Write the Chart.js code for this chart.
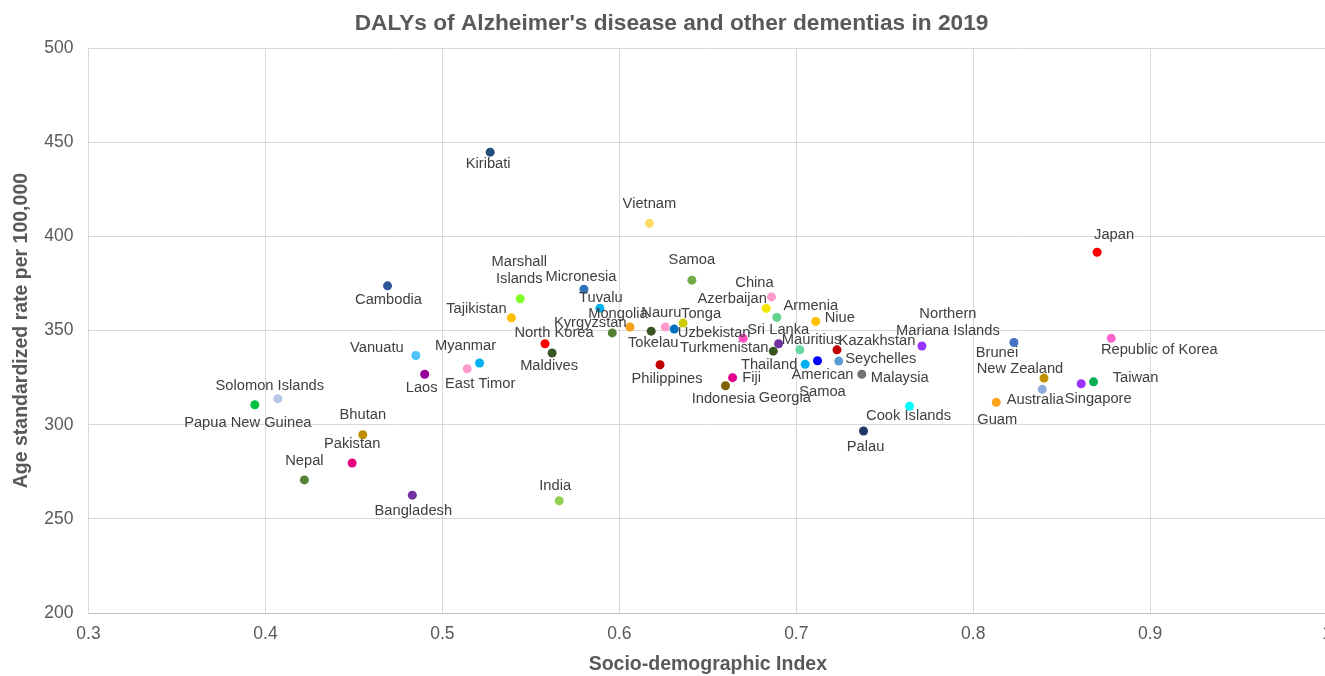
<!DOCTYPE html>
<html>
<head>
<meta charset="utf-8">
<title>DALYs of Alzheimer's disease and other dementias in 2019</title>
<script src="https://cdn.jsdelivr.net/npm/chart.js@4"></script>
<style>
  html, body { margin: 0; padding: 0; background: #fff; overflow: hidden; }
  #myChart { position: absolute; left: 0; top: 0; }
</style>
</head>
<body>
<canvas id="myChart" width="1343" height="676"></canvas>
<script>
/* DATA */
const countries = [
  'Kiribati', 'Vietnam', 'Marshall Islands', 'Micronesia', 'Tuvalu', 'Samoa', 'China', 'Azerbaijan',
  'Armenia', 'Niue', 'Japan', 'Cambodia', 'Tajikistan', 'Mongolia', 'Kyrgyzstan', 'Nauru',
  'Tonga', 'Uzbekistan', 'Tokelau', 'North Korea', 'Maldives', 'Philippines', 'Fiji', 'Indonesia',
  'Sri Lanka', 'Turkmenistan', 'Mauritius', 'Georgia', 'Thailand', 'American Samoa', 'Kazakhstan', 'Seychelles',
  'Malaysia', 'Northern Mariana Islands', 'Cook Islands', 'Palau', 'Brunei', 'Republic of Korea', 'New Zealand', 'Australia',
  'Guam', 'Singapore', 'Taiwan', 'Vanuatu', 'Myanmar', 'East Timor', 'Laos', 'Solomon Islands',
  'Papua New Guinea', 'Bhutan', 'Pakistan', 'Nepal', 'Bangladesh', 'India'
];
const sdiValues = [
  0.527, 0.617, 0.544, 0.580, 0.589, 0.641, 0.686, 0.683,
  0.689, 0.711, 0.870, 0.469, 0.539, 0.606, 0.596, 0.626,
  0.636, 0.631, 0.618, 0.558, 0.562, 0.623, 0.664, 0.660,
  0.670, 0.687, 0.690, 0.702, 0.705, 0.712, 0.723, 0.724,
  0.737, 0.771, 0.764, 0.738, 0.823, 0.878, 0.840, 0.839,
  0.813, 0.861, 0.868, 0.485, 0.521, 0.514, 0.490, 0.407,
  0.394, 0.455, 0.449, 0.422, 0.483, 0.566
];
const rateValues = [
  444.8, 407.0, 366.9, 372.0, 361.9, 376.8, 367.9, 361.8,
  357.0, 354.9, 391.6, 373.8, 356.8, 351.9, 348.8, 351.9,
  354.0, 350.8, 349.7, 343.0, 338.1, 331.9, 325.0, 320.7,
  345.9, 339.1, 343.0, 339.8, 332.1, 334.0, 339.8, 333.8,
  326.8, 341.8, 309.8, 296.7, 343.7, 345.9, 324.8, 318.8,
  311.9, 321.8, 322.8, 336.8, 332.8, 329.7, 326.8, 313.8,
  310.6, 294.7, 279.7, 270.7, 262.6, 259.6
];
const xTickRange = [0.3, 1.0];
const yTickRange = [200, 500];

/* point colours, one per country */
const pointColors = [
  '#1f4e79', '#ffd966', '#7fff2a', '#2e75b6', '#00b0f0', '#70ad47', '#ff99cc', '#f2e600',
  '#5fd38d', '#ffc000', '#ff0000', '#2f5597', '#ffc000', '#f5a11a', '#548235', '#ff99cc',
  '#cccc00', '#0070c0', '#375623', '#ff0000', '#375623', '#c00000', '#e3008c', '#806000',
  '#ff4dc4', '#375623', '#7030a0', '#66d9a0', '#00b0f0', '#0000ff', '#c00000', '#5b9bd5',
  '#767171', '#9933ff', '#00ffff', '#1f3864', '#4472c4', '#ff66cc', '#bf9000', '#8faadc',
  '#ffa31a', '#9933ff', '#00b050', '#4fc3f7', '#00b0f0', '#ff99cc', '#990099', '#b4c7e7',
  '#00c040', '#bf9000', '#e6007e', '#548235', '#7030a0', '#92d050'
];

/* label placement: [dx, dy] of the first line's centre from the point */
const labelOffsets = {
  'Kiribati': [-2, 12], 'Vietnam': [0, -19], 'Marshall Islands': [-1, -37], 'Micronesia': [-3, -12],
  'Tuvalu': [1, -10], 'Samoa': [0, -20], 'China': [-17, -14], 'Azerbaijan': [-34, -9],
  'Armenia': [34, -11], 'Niue': [24, -3], 'Japan': [17, -17], 'Cambodia': [1, 14],
  'Tajikistan': [-35, -9], 'Mongolia': [-12, -13], 'Kyrgyzstan': [-22, -10], 'Nauru': [-4, -14],
  'Tonga': [18, -9], 'Uzbekistan': [40, 4], 'Tokelau': [2, 12], 'North Korea': [9, -11],
  'Maldives': [-3, 13], 'Philippines': [7, 14], 'Fiji': [19, 0], 'Indonesia': [-2, 13],
  'Sri Lanka': [35, -8], 'Turkmenistan': [-49, -3], 'Mauritius': [33, -4], 'Georgia': [-15, 48],
  'Thailand': [-36, 1], 'American Samoa': [5, 14], 'Kazakhstan': [40, -9], 'Seychelles': [42, -2],
  'Malaysia': [38, 4], 'Northern Mariana Islands': [26, -32], 'Cook Islands': [-1, 10], 'Palau': [2, 16],
  'Brunei': [-17, 10], 'Republic of Korea': [48, 12], 'New Zealand': [-24, -9], 'Australia': [-7, 11],
  'Guam': [1, 18], 'Singapore': [17, 15], 'Taiwan': [42, -4], 'Vanuatu': [-39, -8],
  'Myanmar': [-14, -17], 'East Timor': [13, 15], 'Laos': [-3, 14], 'Solomon Islands': [-8, -13],
  'Papua New Guinea': [-7, 18], 'Bhutan': [0, -20], 'Pakistan': [0, -19], 'Nepal': [0, -19],
  'Bangladesh': [1, 16], 'India': [-4, -15]
};
/* labels that wrap onto two lines */
const labelLines = {
  'Marshall Islands': ['Marshall', 'Islands'],
  'American Samoa': ['American', 'Samoa'],
  'Northern Mariana Islands': ['Northern', 'Mariana Islands']
};

const FONT = '"Liberation Sans", Arial, sans-serif';

/* draws the country name beside each point */
const pointLabels = {
  id: 'pointLabels',
  afterDatasetsDraw: function(chart){
    const ctx = chart.ctx;
    const meta = chart.getDatasetMeta(0);
    ctx.save();
    ctx.font = '14.7px ' + FONT;
    ctx.fillStyle = '#404040';
    ctx.textAlign = 'center';
    ctx.textBaseline = 'middle';
    meta.data.forEach(function(pt, i){
      const name = countries[i];
      const off = labelOffsets[name] || [0, -14];
      const lines = labelLines[name] || [name];
      lines.forEach(function(line, k){
        ctx.fillText(line, pt.x + off[0], pt.y + off[1] + k * 17);
      });
    });
    ctx.restore();
  }
};

const points = sdiValues.map(function(x, i){
  return {x: x, y: rateValues[i]};
});

const ctx = document.getElementById('myChart').getContext('2d');
const chart = new Chart(ctx, {
  type: 'scatter',
  data: {
    datasets: [{
      label: 'Countries',
      data: points,
      pointBackgroundColor: pointColors,
      pointBorderColor: pointColors,
      pointRadius: 4.5,
      pointBorderWidth: 0,
    }],
  },
  options: {
    responsive: false,
    animation: false,
    devicePixelRatio: 1,
    layout: {padding: {left: 0, right: 0, top: 0, bottom: 0}},
    plugins: {
      legend: {display: false},
      tooltip: {enabled: false},
      title: {
        display: true,
        text: "DALYs of Alzheimer's disease and other dementias in 2019",
        color: '#595959',
        font: {family: FONT, size: 22.7, weight: 'bold'},
        padding: {top: 10, bottom: 11},
      },
    },
    scales: {
      x: {
        type: 'linear',
        min: xTickRange[0],
        max: xTickRange[1],
        ticks: {
          stepSize: 0.1,
          color: '#595959',
          font: {family: FONT, size: 17.5},
          padding: 11,
          callback: function(v){ return String(Number(v.toFixed(1))); },
        },
        grid: {color: '#d9d9d9', drawTicks: false},
        border: {color: '#bfbfbf'},
        title: {
          display: true,
          text: 'Socio-demographic Index',
          color: '#595959',
          font: {family: FONT, size: 19.5, weight: 'bold'},
          padding: {top: 0, bottom: 0},
        },
        afterFit: function(scale){ scale.height = 63; },
      },
      y: {
        type: 'linear',
        min: yTickRange[0],
        max: yTickRange[1],
        ticks: {stepSize: 50, color: '#595959', font: {family: FONT, size: 17.5}, padding: 15},
        grid: {color: '#d9d9d9', drawTicks: false},
        border: {color: '#d9d9d9'},
        title: {
          display: true,
          text: 'Age standardized rate per 100,000',
          color: '#595959',
          font: {family: FONT, size: 19.5, weight: 'bold'},
          padding: {top: 10, bottom: 0},
        },
        afterFit: function(scale){ scale.width = 88.5; },
      },
    },
  },
  plugins: [pointLabels],
});
</script>
</body>
</html>
